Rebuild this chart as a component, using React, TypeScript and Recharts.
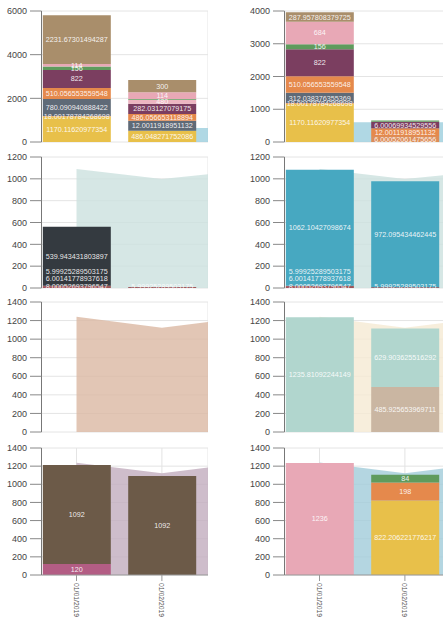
import React from "react";
import { Area, Bar, CartesianGrid, ComposedChart, LabelList, XAxis, YAxis } from "recharts";

const dates = ["01/01/2019", "01/02/2019", "01/03/2019"];

const colors: Record<string, string> = {
  yellow: "#e8c04a",
  small18: "#dc8d58",
  slate: "#5f6a77",
  orange: "#e5894c",
  plum: "#7b3e60",
  rose: "#edb5c1",
  green: "#5f9b5d",
  pink: "#e8a8b6",
  tan: "#a98e6b",
  red8: "#8e2f35",
  red6: "#9a3438",
  red5: "#7f2a30",
  charcoal: "#343a40",
  teal: "#47a8c1",
  beige: "#cab6a2",
  mint: "#b1d6ce",
  magenta: "#b35d84",
  brown: "#6c5a48",
};

// [series, values per date, label per date]
type Seg = [string, (number | null)[], (string | null)[]];

const ticks6000 = [0, 2000, 4000, 6000];
const ticks4000 = [0, 1000, 2000, 3000, 4000];
const ticks1200 = [0, 200, 400, 600, 800, 1000, 1200];
const ticks1400 = [0, 200, 400, 600, 800, 1000, 1200, 1400];

// row 1, left
const r1lArea = [null, 640, 640];
const r1lSegs: Seg[] = [
  ["yellow", [1170.12, 520], ["1170.11620977354", "486.048271752086"]],
  ["small18", [18, 0], ["18.00178784268698", null]],
  ["slate", [780.09, 458], ["780.090940888422", "12.0011918951132"]],
  ["orange", [510.06, 305], ["510.056553559548", "486.056653118894"]],
  ["plum", [822, 473], ["822", "282.03127079175"]],
  ["rose", [0, 183], [null, "480"]],
  ["green", [156, 30], ["156", null]],
  ["pink", [114, 305], ["114", "114"]],
  ["tan", [2231.67, 565], ["2231.67301494287", "300"]],
];

// row 1, right
const r1rArea = [600, 600, 600];
const r1rSegs: Seg[] = [
  ["yellow", [1170.12, 0], ["1170.11620977354", null]],
  ["small18", [18, 183], ["18.00178784268698", "6.00052061475656"]],
  ["slate", [312.04, 0], ["312.038376355369", null]],
  ["orange", [510.06, 235], ["510.056553559548", "12.0011918951132"]],
  ["plum", [822, 200], ["822", "6.00069934529556"]],
  ["green", [156, 40], ["156", null]],
  ["pink", [684, 0], ["684", null]],
  ["tan", [287.96, 0], ["287.957808379725", null]],
];

// row 2, left
const r2lArea = [1090, 998, 1078];
const r2lSegs: Seg[] = [
  ["red8", [8, 6], ["8.00052693796547", "5.99925289503175"]],
  ["red6", [6, 0], ["6.00141778937618", null]],
  ["red5", [6, 0], ["5.99925289503175", null]],
  ["charcoal", [539.94, 0], ["539.943431803897", null]],
];

// row 2, right
const r2rArea = [1090, 998, 1078];
const r2rSegs: Seg[] = [
  ["red8", [8, 6], ["8.00052693796547", "5.99925289503175"]],
  ["red6", [6, 0], ["6.00141778937618", null]],
  ["red5", [6, 0], ["5.99925289503175", null]],
  ["teal", [1062.1, 972.1], ["1062.10427098674", "972.095434462445"]],
];

// row 3
const r3lArea = [1240, 1122, 1240];
const r3lSegs: Seg[] = [];
const r3rArea = [1240, 1122, 1240];
const r3rSegs: Seg[] = [
  ["beige", [0, 485.93], [null, "485.925653969711"]],
  ["mint", [1235.81, 629.9], ["1235.81092244149", "629.903625516292"]],
];

// row 4
const r4lArea = [1237, 1122, 1240];
const r4lSegs: Seg[] = [
  ["magenta", [120, 0], ["120", null]],
  ["brown", [1092, 1092], ["1092", "1092"]],
];
const r4rArea = [1240, 1122, 1240];
const r4rSegs: Seg[] = [
  ["yellow", [0, 822.21], [null, "822.206221776217"]],
  ["orange", [0, 198], [null, "198"]],
  ["green", [0, 84], [null, "84"]],
  ["pink", [1236, 0], ["1236", null]],
];

const font = "'Liberation Sans', Arial, sans-serif";
const lowOffsets: Record<string, number> = { red8: -1, red6: 6.5, red5: 12.8 };

function DateTick({ x, y, payload }: any) {
  const label = dates[payload.value];
  if (label == null) return null;
  return (
    <text
      x={x}
      y={y}
      transform={`rotate(90 ${x} ${y})`}
      textAnchor="start"
      dominantBaseline="central"
      fontSize={6.8}
      fill="#555"
    >
      {label}
    </text>
  );
}

function Panel({ left, top, plotH, ticks, area, areaColor, segs, showDates }: any) {
  const rows = dates.map((d, i) => {
    const row: any = { i, date: d, area: area[i] };
    segs.forEach(([k, vals, lbls]: Seg) => {
      row[k] = vals[i] ?? null;
      row[k + "_lbl"] = lbls[i] ?? undefined;
    });
    return row;
  });
  const mt = 4;
  const xH = showDates ? 44 : 0;
  const h = mt + plotH + xH + 4;
  return (
    <div style={{ position: "absolute", left, top: top - mt, fontFamily: font }}>
      <ComposedChart width={208} height={h} data={rows} margin={{ top: mt, right: 0, bottom: 4, left: 0 }}>
        <CartesianGrid stroke="#e4e4e4" />
        <XAxis
          type="number"
          dataKey="i"
          domain={[-0.41, 1.54]}
          allowDataOverflow
          ticks={[0, 1]}
          interval={0}
          height={xH}
          tick={showDates ? <DateTick /> : false}
          tickLine={showDates ? { stroke: "#999" } : false}
          tickSize={6}
          axisLine={{ stroke: "#999" }}
        />
        <YAxis
          width={41.5}
          domain={[0, ticks[ticks.length - 1]]}
          ticks={ticks}
          interval={0}
          tickSize={11.5}
          tickMargin={3}
          tick={{ fontSize: 9, fill: "#444" }}
          axisLine={{ stroke: "#777" }}
          tickLine={{ stroke: "#888" }}
        />
        <Area type="linear" dataKey="area" fill={areaColor} fillOpacity={0.8} stroke="none" isAnimationActive={false} />
        {segs.map(([k]: Seg) => (
          <Bar key={k} dataKey={k} stackId="s" barSize={68} fill={colors[k]} isAnimationActive={false}>
            <LabelList
              dataKey={k + "_lbl"}
              position={k in lowOffsets ? "insideBottom" : "center"}
              offset={lowOffsets[k] ?? 0}
              fill="#fff"
              fillOpacity={0.9}
              fontSize={7.2}
            />
          </Bar>
        ))}
      </ComposedChart>
    </div>
  );
}

export default function App() {
  const L = 0;
  const R = 242.5;
  return (
    <div style={{ position: "absolute", left: 0, top: 0, width: 443, height: 617, overflow: "hidden", background: "#fff" }}>
      <Panel left={L} top={10.7} plotH={131} ticks={ticks6000} area={r1lArea} areaColor="#9ccedd" segs={r1lSegs} />
      <Panel left={R} top={11} plotH={131} ticks={ticks4000} area={r1rArea} areaColor="#9ccedd" segs={r1rSegs} />
      <Panel left={L} top={157} plotH={131} ticks={ticks1200} area={r2lArea} areaColor="#cce1de" segs={r2lSegs} />
      <Panel left={R} top={157} plotH={131} ticks={ticks1200} area={r2rArea} areaColor="#cce1de" segs={r2rSegs} />
      <Panel left={L} top={302} plotH={130} ticks={ticks1400} area={r3lArea} areaColor="#dbb8a2" segs={r3lSegs} />
      <Panel left={R} top={302} plotH={130} ticks={ticks1400} area={r3rArea} areaColor="#f5ead3" segs={r3rSegs} />
      <Panel left={L} top={447.5} plotH={127} ticks={ticks1400} area={r4lArea} areaColor="#c2acbe" segs={r4lSegs} showDates />
      <Panel left={R} top={447.5} plotH={127} ticks={ticks1400} area={r4rArea} areaColor="#a1ccd9" segs={r4rSegs} showDates />
    </div>
  );
}
